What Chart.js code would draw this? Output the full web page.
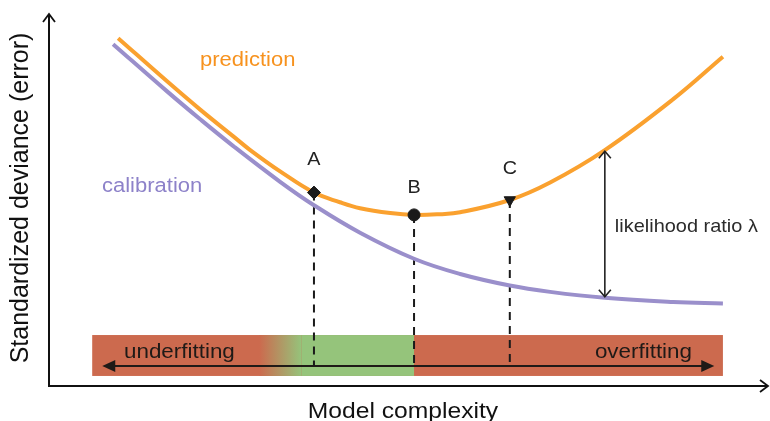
<!DOCTYPE html>
<html>
<head>
<meta charset="utf-8">
<script src="https://cdn.jsdelivr.net/npm/chart.js@4/dist/chart.umd.min.js"></script>
<style>
  html, body { margin: 0; padding: 0; background: #ffffff; }
  #wrap { width: 770px; height: 421px; }
</style>
</head>
<body>
<div id="wrap"><canvas id="chart" width="770" height="421"></canvas></div>
<script>
// Model complexity (x) and standardized deviance (y), arbitrary units 0..10
const predComplexity  = [0.96, 1.64, 2.10, 2.56, 2.79, 3.21, 3.68, 4.04, 4.32, 4.74, 5.07, 5.43, 5.71, 6.40, 6.96, 7.72, 8.67, 9.36];
const predictionError = [9.35, 8.19, 7.43, 6.71, 6.35, 5.77, 5.20, 4.94, 4.78, 4.65, 4.60, 4.62, 4.67, 5.00, 5.47, 6.34, 7.71, 8.85];

const calibComplexity  = [0.89, 1.64, 2.10, 2.56, 3.21, 3.68, 4.32, 5.07, 5.71, 6.40, 6.96, 7.72, 8.67, 9.36];
const calibrationError = [9.19, 7.92, 7.17, 6.45, 5.49, 4.86, 4.12, 3.42, 3.01, 2.70, 2.53, 2.37, 2.26, 2.22];

// Candidate models on the prediction curve
const modelNames      = ['A', 'B', 'C'];
const modelComplexity = [3.68, 5.07, 6.40];
const modelError      = [5.20, 4.60, 5.00];

// Complexity where the likelihood ratio is shown
const ratioComplexity = 7.72;

// Fitting regimes along the complexity axis
const bandRange  = [0.60, 9.36];
const fadeRange  = [2.92, 3.51];   // underfitting fades into good fit
const goodFitEnd = 5.07;
const arrowRange = [0.74, 9.24];
const arrowLevel = 0.54;

const FONT = '"Liberation Sans", Arial, Helvetica, sans-serif';

function pts(xs, ys) { return xs.map((x, i) => ({ x: x, y: ys[i] })); }

function stretchedText(ctx, text, x, y, size, color, align, sx) {
  ctx.save();
  ctx.font = size + 'px ' + FONT;
  ctx.fillStyle = color;
  ctx.textBaseline = 'alphabetic';
  ctx.textAlign = align;
  ctx.translate(x, y);
  ctx.scale(sx, 1);
  ctx.fillText(text, 0, 0);
  ctx.restore();
}

function arrowHead(ctx, tx, ty, dx, dy, len, half, filled) {
  // (dx, dy) unit vector pointing towards the tip
  const bx = tx - dx * len, by = ty - dy * len;
  const px = -dy, py = dx;
  ctx.beginPath();
  ctx.moveTo(bx + px * half, by + py * half);
  ctx.lineTo(tx, ty);
  ctx.lineTo(bx - px * half, by - py * half);
  if (filled) { ctx.closePath(); ctx.fill(); } else { ctx.stroke(); }
}

const diagram = {
  id: 'diagram',
  beforeDatasetsDraw(chart) {
    const { ctx, scales: { x, y } } = chart;
    const left = x.getPixelForValue(bandRange[0]);
    const right = x.getPixelForValue(bandRange[1]);
    const top = y.getPixelForValue(1.37);
    const bottom = y.getPixelForValue(0.27);
    const red = '#CC6A4E', green = '#95C47B';
    ctx.save();
    ctx.fillStyle = red;
    ctx.fillRect(left, top, right - left, bottom - top);
    const f0 = x.getPixelForValue(fadeRange[0]);
    const f1 = x.getPixelForValue(fadeRange[1]);
    const g1 = x.getPixelForValue(goodFitEnd);
    const grad = ctx.createLinearGradient(f0, 0, f1, 0);
    grad.addColorStop(0, red);
    grad.addColorStop(1, green);
    ctx.fillStyle = grad;
    ctx.fillRect(f0, top, f1 - f0, bottom - top);
    ctx.fillStyle = green;
    ctx.fillRect(f1, top, g1 - f1, bottom - top);

    // double arrow across the band
    const ay = y.getPixelForValue(arrowLevel);
    const a0 = x.getPixelForValue(arrowRange[0]);
    const a1 = x.getPixelForValue(arrowRange[1]);
    ctx.strokeStyle = '#1f1a17';
    ctx.fillStyle = '#1f1a17';
    ctx.lineWidth = 2;
    ctx.beginPath();
    ctx.moveTo(a0 + 8, ay);
    ctx.lineTo(a1 - 8, ay);
    ctx.stroke();
    arrowHead(ctx, a0, ay, -1, 0, 13, 6, true);
    arrowHead(ctx, a1, ay, 1, 0, 13, 6, true);

    stretchedText(ctx, 'underfitting', 124, 358, 20, '#1f1a17', 'left', 1.12);
    stretchedText(ctx, 'overfitting', 692, 358, 20, '#1f1a17', 'right', 1.12);
    ctx.restore();
  },
  afterDraw(chart) {
    const { ctx, chartArea, scales: { x, y } } = chart;
    ctx.save();
    ctx.strokeStyle = '#111111';
    ctx.lineWidth = 2;
    ctx.lineCap = 'butt';
    // axes with open arrow heads
    const ox = chartArea.left, oy = chartArea.bottom;
    ctx.beginPath();
    ctx.moveTo(ox, oy + 1);
    ctx.lineTo(ox, chartArea.top);
    ctx.moveTo(ox - 1, oy);
    ctx.lineTo(chartArea.right - 1, oy);
    ctx.stroke();
    ctx.lineWidth = 1.8;
    arrowHead(ctx, ox, chartArea.top, 0, -1, 8, 6, false);
    arrowHead(ctx, chartArea.right - 1, oy, 1, 0, 8, 6, false);

    // likelihood ratio between the two curves
    const i = predComplexity.indexOf(ratioComplexity);
    const j = calibComplexity.indexOf(ratioComplexity);
    const rx = x.getPixelForValue(ratioComplexity);
    const ry0 = y.getPixelForValue(predictionError[i]);
    const ry1 = y.getPixelForValue(calibrationError[j]);
    ctx.strokeStyle = '#222222';
    ctx.lineWidth = 1.6;
    ctx.beginPath();
    ctx.moveTo(rx, ry0 + 1);
    ctx.lineTo(rx, ry1 - 1);
    ctx.stroke();
    arrowHead(ctx, rx, ry0 + 1, 0, -1, 7, 6, false);
    arrowHead(ctx, rx, ry1 - 1, 0, 1, 7, 6, false);
    stretchedText(ctx, 'likelihood ratio \u03bb', rx + 10, (ry0 + ry1) / 2 + 8, 19, '#2b2b2b', 'left', 1.05);

    // model labels above the markers
    const lift = [28, 22, 26];
    modelNames.forEach((name, k) => {
      const px = x.getPixelForValue(modelComplexity[k]);
      const py = y.getPixelForValue(modelError[k]);
      stretchedText(ctx, name, px, py - lift[k], 18, '#222222', 'center', 1.1);
    });

    // curve names
    stretchedText(ctx, 'prediction', 200, 66, 20, '#F7921E', 'left', 1.1);
    stretchedText(ctx, 'calibration', 102, 192, 20, '#8D82C9', 'left', 1.1);

    // axis titles
    stretchedText(ctx, 'Model complexity', 403, 418, 22, '#111111', 'center', 1.12);
    ctx.save();
    ctx.translate(28, 198);
    ctx.rotate(-Math.PI / 2);
    ctx.font = '25px ' + FONT;
    ctx.fillStyle = '#111111';
    ctx.textAlign = 'center';
    ctx.textBaseline = 'alphabetic';
    ctx.fillText('Standardized deviance (error)', 0, 0);
    ctx.restore();
    ctx.restore();
  }
};

const dropLines = modelComplexity.map((cx, k) => ({
  label: 'drop ' + modelNames[k],
  data: [{ x: cx, y: modelError[k] }, { x: cx, y: arrowLevel }],
  borderColor: '#1a1a1a',
  borderWidth: 2,
  borderDash: [8, 6],
  pointRadius: 0,
  fill: false,
  order: 3
}));

const curveStyle = {
  borderWidth: 4,
  tension: 0.4,
  cubicInterpolationMode: 'default',
  borderCapStyle: 'butt',
  borderJoinStyle: 'round',
  pointRadius: 0,
  fill: false
};

new Chart(document.getElementById('chart'), {
  type: 'line',
  data: {
    datasets: [
      {
        label: 'models',
        data: pts(modelComplexity, modelError),
        showLine: false,
        pointStyle: ['rectRot', 'circle', 'triangle'],
        rotation: [0, 0, 180],
        pointRadius: [6.5, 6, 6.5],
        pointBackgroundColor: '#1a1a1a',
        pointBorderColor: '#1a1a1a',
        pointBorderWidth: 1,
        order: 0
      },
      Object.assign({
        label: 'prediction',
        data: pts(predComplexity, predictionError),
        borderColor: '#FAA12F',
        order: 1
      }, curveStyle),
      Object.assign({
        label: 'calibration',
        data: pts(calibComplexity, calibrationError),
        borderColor: '#9A8FCB',
        order: 2
      }, curveStyle),
      ...dropLines
    ]
  },
  options: {
    responsive: false,
    animation: false,
    layout: { autoPadding: false, padding: { left: 49, right: 1, top: 14, bottom: 35 } },
    plugins: { legend: { display: false }, tooltip: { enabled: false } },
    scales: {
      x: { type: 'linear', min: 0, max: 10, display: false },
      y: { type: 'linear', min: 0, max: 10, display: false }
    }
  },
  plugins: [diagram]
});
</script>
</body>
</html>
